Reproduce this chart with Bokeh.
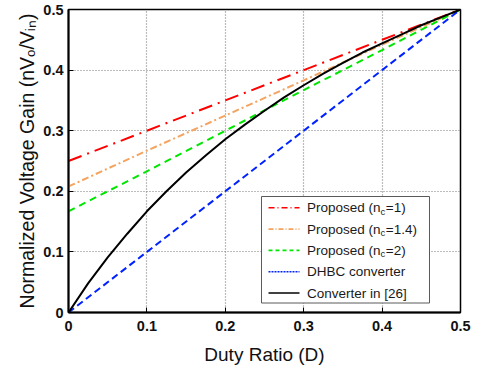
from bokeh.plotting import figure
from bokeh.models import Range1d, FixedTicker, NumeralTickFormatter
from bokeh.core.properties import value
from bokeh.embed import file_html
from bokeh.resources import INLINE

# ---------------- data ----------------
duty = [0.0, 0.1, 0.2, 0.3, 0.4, 0.5]
gain_nc1 = [0.250, 0.300, 0.350, 0.400, 0.450, 0.500]
gain_nc14 = [0.208, 0.267, 0.325, 0.383, 0.442, 0.500]
gain_nc2 = [0.167, 0.233, 0.300, 0.367, 0.433, 0.500]
gain_dhbc = [0.0, 0.1, 0.2, 0.3, 0.4, 0.5]

duty_fine = [0.0, 0.025, 0.05, 0.075, 0.1, 0.125, 0.15, 0.175, 0.2, 0.225, 0.25,
             0.275, 0.3, 0.325, 0.35, 0.375, 0.4, 0.425, 0.45, 0.475, 0.5]
gain_ref26 = [0.0, 0.048, 0.091, 0.130, 0.167, 0.200, 0.231, 0.259, 0.286, 0.310, 0.333,
              0.355, 0.375, 0.394, 0.412, 0.429, 0.444, 0.459, 0.474, 0.487, 0.500]

# legend labels: (main text, subscript, tail)
legend_labels = [
    ("Proposed (n", "c", "=1)"),
    ("Proposed (n", "c", "=1.4)"),
    ("Proposed (n", "c", "=2)"),
    ("DHBC converter", "", ""),
    ("Converter in [26]", "", ""),
]
tick_values = [0.0, 0.1, 0.2, 0.3, 0.4, 0.5]
x_label = "Duty Ratio (D)"
y_label = "Normalized Voltage Gain (nV\u2092/V\u1d62\u2099)"

# ---------------- styles ----------------
styles = [
    dict(line_color="#FF0000", line_dash="14 6 2 6"),
    dict(line_color="#F4A460", line_dash="7 3 2 3"),
    dict(line_color="#00E600", line_dash="7 5"),
    dict(line_color="#0022FF", line_dash="7 4"),
    dict(line_color="#000000", line_dash="solid"),
]
legend_sample_dash = ["6 3 1 3", "5 2 1 2", "4 3", "2 1", "solid"]

W, H = 479, 375
FL, FR, FT, FB = 68, 460, 9, 312
X0, X1, Y0, Y1 = 0.0, 0.5, 0.0, 0.5
FONT = "Liberation Sans"
TICK_SZ = "14.5px"

p = figure(width=W, height=H, x_range=Range1d(X0, X1), y_range=Range1d(Y0, Y1),
           output_backend="svg", toolbar_location=None,
           min_border_left=FL, min_border_right=W - FR,
           min_border_top=FT, min_border_bottom=H - FB)
p.background_fill_color = "white"
p.border_fill_color = "white"
p.outline_line_color = "black"
p.outline_line_width = 1.5
p.outline_line_alpha = 1.0

for ax in (p.xaxis[0], p.yaxis[0]):
    ax.ticker = FixedTicker(ticks=tick_values)
    ax.formatter = NumeralTickFormatter(format="0.[0]")
    ax.major_label_text_font = FONT
    ax.major_label_text_font_style = "bold"
    ax.major_label_text_font_size = TICK_SZ
    ax.major_label_text_color = "#111111"
    ax.axis_line_color = "black"
    ax.axis_line_width = 2
    ax.major_tick_in = 5
    ax.major_tick_out = 0
    ax.major_tick_line_color = "black"
    ax.minor_tick_line_color = None
    ax.axis_label_text_font = FONT
    ax.axis_label_text_font_style = "normal"
    ax.axis_label_text_font_size = "19px"
    ax.axis_label_text_color = "#111111"

p.yaxis.axis_label_text_font_size = "19.5px"
p.xaxis.axis_label = x_label
p.yaxis.axis_label = y_label
p.xaxis.major_label_standoff = 8
p.yaxis.major_label_standoff = 5
p.xaxis.axis_label_standoff = 10
p.yaxis.axis_label_standoff = 2

p.grid.grid_line_color = "#7a7a7a"
p.grid.grid_line_dash = "1 2"
p.grid.grid_line_width = 1.2

series = [(duty, gain_nc1), (duty, gain_nc14), (duty, gain_nc2), (duty, gain_dhbc), (duty_fine, gain_ref26)]
for (xs, ys), st in zip(series, styles):
    p.line(xs, ys, line_width=2, **st)

# ---------------- manual legend (for subscripts) ----------------
def dx(px):
    return X0 + (px - FL) / (FR - FL) * (X1 - X0)

def dy(py):
    return Y0 + (FB - py) / (FB - FT) * (Y1 - Y0)

ARIAL = {"P": 667, "r": 333, "o": 556, "p": 556, "s": 500, "e": 556, "d": 556, " ": 278,
         "(": 333, ")": 333, "n": 556, "c": 500, "=": 584, "1": 556, ".": 278, "4": 556, "2": 556}

def tw(s, size):
    return sum(ARIAL.get(ch, 556) for ch in s) / 1000.0 * size

LEG_L, LEG_R, LEG_T, LEG_B = 261, 429, 196, 302.5
ROW0, ROW_DY = 207.3, 21.3
SAMPLE_L, SAMPLE_R, TEXT_X = 268, 299, 306.5
MAIN_SZ, SUB_SZ = 13.5, 9.5

p.quad(left=[dx(LEG_L)], right=[dx(LEG_R)], top=[dy(LEG_T)], bottom=[dy(LEG_B)],
       fill_color="white", line_color="#5a5a5a", line_width=1)

tx, ty, tt = [], [], []
sx, sy, st_ = [], [], []
for i, ((main, sub, tail), st, sd) in enumerate(zip(legend_labels, styles, legend_sample_dash)):
    row = ROW0 + i * ROW_DY
    p.line([dx(SAMPLE_L), dx(SAMPLE_R)], [dy(row), dy(row)], line_color=st["line_color"],
           line_width=1.6, line_dash=sd)
    tx.append(dx(TEXT_X)); ty.append(dy(row)); tt.append(main)
    if sub:
        xsub = TEXT_X + tw(main, MAIN_SZ)
        sx.append(dx(xsub)); sy.append(dy(row + 3.2)); st_.append(sub)
        tx.append(dx(xsub + tw(sub, SUB_SZ) + 0.5)); ty.append(dy(row)); tt.append(tail)

p.text(x=tx, y=ty, text=tt, text_font=value(FONT), text_font_size=value("%gpx" % MAIN_SZ),
       text_baseline="middle", text_align="left", text_color="#1a1a1a")
p.text(x=sx, y=sy, text=st_, text_font=value(FONT), text_font_size=value("%gpx" % SUB_SZ),
       text_baseline="middle", text_align="left", text_color="#1a1a1a")

open("out.html", "w").write(file_html(p, INLINE))
